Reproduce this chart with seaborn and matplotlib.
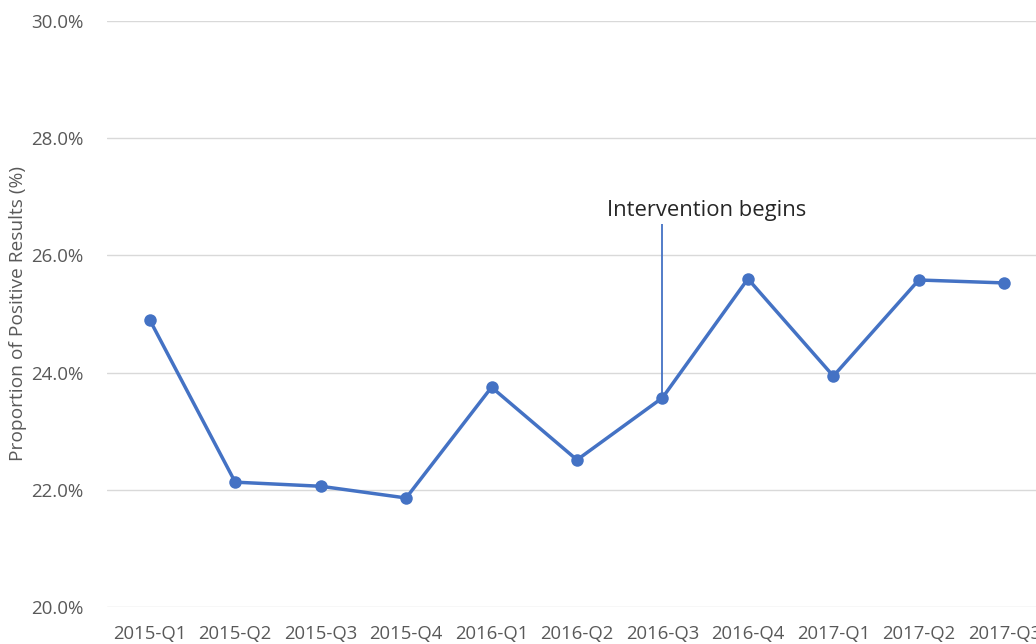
import matplotlib
matplotlib.use("Agg")
import matplotlib.pyplot as plt
import seaborn as sns
import pandas as pd
from matplotlib.ticker import FuncFormatter

quarters = ["2015-Q1", "2015-Q2", "2015-Q3", "2015-Q4", "2016-Q1", "2016-Q2",
            "2016-Q3", "2016-Q4", "2017-Q1", "2017-Q2", "2017-Q3"]
positive_pct = [24.90, 22.13, 22.06, 21.86, 23.75, 22.51, 23.57, 25.60, 23.94, 25.58, 25.53]
intervention_quarter = "2016-Q3"
annotation_text = "Intervention begins"

sns.set_theme(style="white")
plt.rcParams['font.family'] = ['Open Sans', 'DejaVu Sans']

df = pd.DataFrame({"quarter": quarters, "pct": positive_pct})
df["pos"] = range(len(df))

fig = plt.figure(figsize=(10.36, 6.44), dpi=100)
ax = fig.add_axes([0.1033, 0.0575, 0.9073, 0.9099])

sns.lineplot(data=df, x="pos", y="pct", ax=ax, color="#4472C4", linewidth=2.5,
             marker="o", markersize=9, markeredgewidth=0, sort=False, zorder=3)

ax.set_xlim(-0.5, len(quarters) - 0.5)
ax.set_ylim(20, 30)
ax.set_yticks([20, 22, 24, 26, 28, 30])
ax.yaxis.set_major_formatter(FuncFormatter(lambda v, p: f"{v:.1f}%"))
ax.set_xticks(df["pos"])
ax.set_xticklabels(quarters)
ax.grid(axis="y", color="#D9D9D9", linewidth=1)
ax.set_axisbelow(True)
for s in ax.spines.values():
    s.set_visible(False)
ax.tick_params(axis="x", length=0, labelsize=13.3, colors="#595959", pad=13)
ax.tick_params(axis="y", length=0, labelsize=13.5, colors="#595959", pad=17)
ax.set_xlabel("")
ax.set_ylabel("Proportion of Positive Results (%)", fontsize=13.8, color="#595959")
ax.yaxis.set_label_coords(-0.085, 0.5)

iv = quarters.index(intervention_quarter)
ax.vlines(iv, positive_pct[iv], 26.54, color="#4472C4", linewidth=1.3, zorder=2)
ax.text(iv + 0.515, 26.77, annotation_text, ha="center", va="center",
        fontsize=15.8, color="#262626")

fig.savefig("out.png", dpi=100)
